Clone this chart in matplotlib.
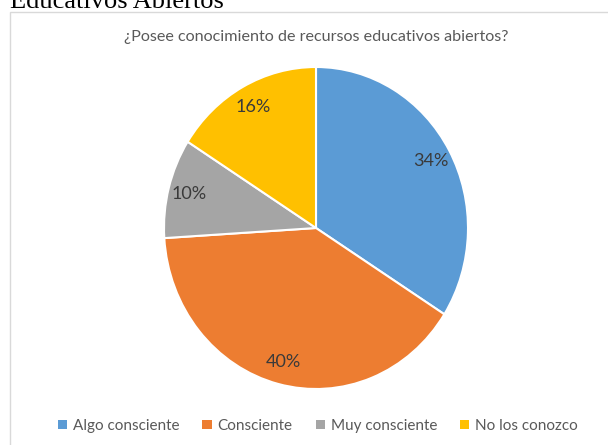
import matplotlib
matplotlib.use("Agg")
import matplotlib.pyplot as plt
from matplotlib.patches import Rectangle, Patch

# --- Data -------------------------------------------------------------------
categories = ["Algo consciente", "Consciente", "Muy consciente", "No los conozco"]
values = [34, 40, 10, 16]
colors = ["#5B9BD5", "#ED7D31", "#A5A5A5", "#FFC000"]
title = "¿Posee conocimiento de recursos educativos abiertos?"
heading = "Educativos Abiertos"

W, H = 608, 445
plt.rcParams["font.family"] = ["Lato", "DejaVu Sans"]

fig = plt.figure(figsize=(W / 100, H / 100), dpi=100)
fig.patch.set_facecolor("white")

# heading cut off at the top of the page (as in the reference)
fig.text(10 / W, 1 - 8 / H, heading, family="Liberation Serif", fontsize=19,
         color="black", ha="left", va="baseline")

# chart frame
fig.patches.append(Rectangle((10 / W, -0.02), 1.0, (H - 12) / H + 0.02,
                             transform=fig.transFigure, fill=False,
                             edgecolor="#D9D9D9", linewidth=1))

# pie (image is slightly stretched vertically)
cx, cy, rx, ry = 316, 228, 152, 161
m = 1.05
ax = fig.add_axes([(cx - rx * m) / W, (H - cy - ry * m) / H,
                   2 * rx * m / W, 2 * ry * m / H])
wedges, texts, autotexts = ax.pie(
    values, colors=colors, startangle=90, counterclock=False,
    autopct=lambda p: f"{p:.0f}%", pctdistance=0.86,
    wedgeprops=dict(edgecolor="white", linewidth=1.5),
    textprops=dict(color="#3A3A3A", fontsize=13))
ax.set_aspect("auto")
ax.set_xlim(-m, m)
ax.set_ylim(-m, m)
ax.axis("off")

fig.text(cx / W, 1 - 37 / H, title, ha="center", va="center",
         fontsize=11.6, color="#595959")

handles = [Patch(facecolor=c, edgecolor="none") for c in colors]
fig.legend(handles, categories, loc="center", bbox_to_anchor=(318 / W, 1 - 426 / H),
           ncol=4, frameon=False, fontsize=11, handlelength=0.6, handleheight=0.6,
           handletextpad=0.4, columnspacing=1.5, labelcolor="#595959")

fig.savefig("out.png", dpi=100)
